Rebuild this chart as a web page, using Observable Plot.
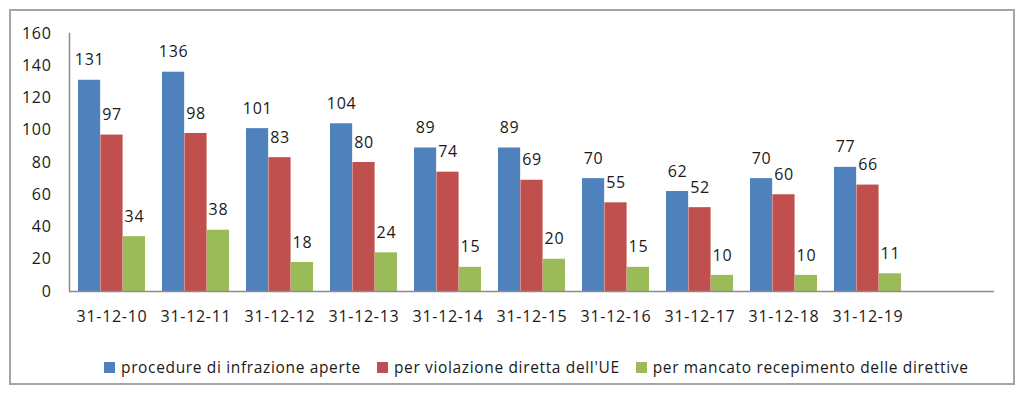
<!DOCTYPE html>
<html>
<head>
<meta charset="utf-8">
<script src="https://cdn.jsdelivr.net/npm/d3@7"></script>
<script src="https://cdn.jsdelivr.net/npm/@observablehq/plot@0.6"></script>
<style>
  html, body { margin: 0; padding: 0; background: #fff; }
  #box {
    position: absolute; left: 9px; top: 9px; width: 1002px; height: 372px;
    border: 2px solid #a5a5a5; background: #fff;
    font-family: "Open Sans", sans-serif;
  }
  #chart { position: absolute; left: 0; top: 0; }
  #legend {
    position: absolute; left: 93px; top: 345px; display: flex; align-items: center;
    font-size: 15.5px; color: #1a1a1a; white-space: nowrap; letter-spacing: 0.65px;
  }
  .item { display: flex; align-items: center; margin-right: 16px; }
  .sw { width: 11px; height: 11px; margin-right: 6px; }
</style>
</head>
<body>
<div id="box"><div id="chart"></div><div id="legend"></div></div>
<script>
const categories = ["31-12-10","31-12-11","31-12-12","31-12-13","31-12-14","31-12-15","31-12-16","31-12-17","31-12-18","31-12-19"];
const seriesNames = ["procedure di infrazione aperte","per violazione diretta dell'UE","per mancato recepimento delle direttive"];
const aperte = [131,136,101,104,89,89,70,62,70,77];
const violazione = [97,98,83,80,74,69,55,52,60,66];
const recepimento = [34,38,18,24,15,20,15,10,10,11];
const colors = ["#4F81BD","#C0504D","#9BBB59"];
const yTicks = [0,20,40,60,80,100,120,140,160];

const seriesValues = [aperte, violazione, recepimento];
const xDomain = [...categories, " "];

const width = 1002, height = 330;
const marginLeft = 58, marginRight = 19, marginTop = 22, marginBottom = 50;
const paddingInner = 0.2, paddingOuter = 0.1;
const step = (width - marginLeft - marginRight) / (xDomain.length - paddingInner + 2 * paddingOuter);
const bw = step * (1 - paddingInner);
const third = bw / 3;

const marks = [];
seriesValues.forEach((vals, i) => {
  const data = categories.map((c, j) => ({cat: c, value: vals[j]}));
  marks.push(Plot.barY(data, {
    x: "cat", y: "value", fill: colors[i],
    insetLeft: i * third, insetRight: (2 - i) * third
  }));
  marks.push(Plot.text(data, {
    x: "cat", y: "value", text: d => String(d.value),
    dx: (i - 1) * third, dy: -20,
    fontSize: 16, fill: "#1a1a1a"
  }));
});

const plot = Plot.plot({
  width, height, marginLeft, marginRight, marginTop, marginBottom,
  style: {fontFamily: "Open Sans, sans-serif", fontSize: "16px", color: "#1a1a1a", background: "transparent", letterSpacing: "0.7px"},
  x: {domain: xDomain, paddingInner, paddingOuter, label: null},
  y: {domain: [0, 160], label: null},
  marks: [
    ...marks,
    Plot.axisY({ticks: yTicks, tickSize: 0, tickPadding: 18, fontSize: 16, label: null}),
    Plot.axisX({tickSize: 0, tickPadding: 19, fontSize: 16, label: null}),
    Plot.frame({anchor: "left", stroke: "#8c8c8c", strokeWidth: 1.5}),
    Plot.ruleY([0], {stroke: "#8c8c8c", strokeWidth: 1.5})
  ]
});
document.getElementById("chart").appendChild(plot);

const legend = document.getElementById("legend");
seriesNames.forEach((name, i) => {
  const item = document.createElement("div");
  item.className = "item";
  const sw = document.createElement("div");
  sw.className = "sw";
  sw.style.background = colors[i];
  const t = document.createElement("span");
  t.textContent = name;
  item.appendChild(sw);
  item.appendChild(t);
  legend.appendChild(item);
});
</script>
</body>
</html>
